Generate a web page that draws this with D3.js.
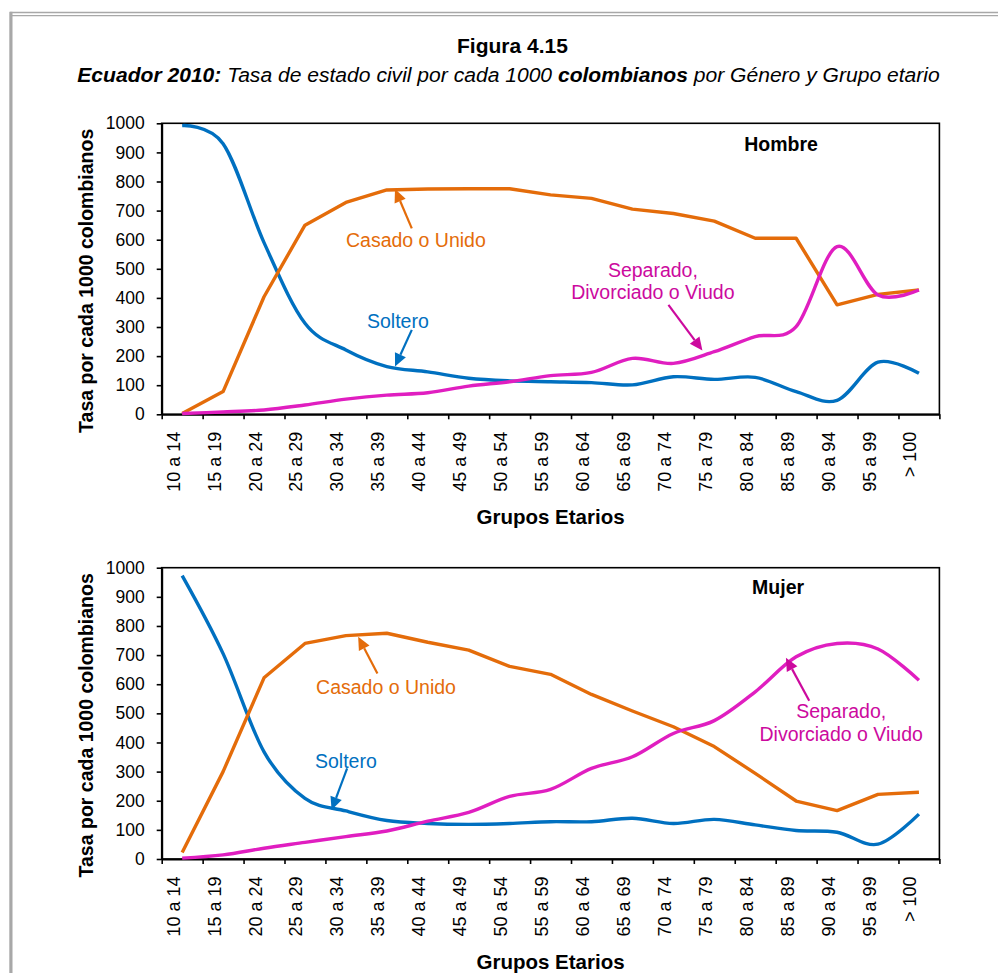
<!DOCTYPE html>
<html><head><meta charset="utf-8">
<script src="https://cdn.jsdelivr.net/npm/d3@7"></script>
<style>
body{margin:0;background:#fff}
svg{display:block}
text{font-family:"Liberation Sans",Arial,sans-serif}
</style></head>
<body><svg id="chart" width="998" height="973"></svg>
<script>
// ---------- data ----------
const categories = ["10 a 14","15 a 19","20 a 24","25 a 29","30 a 34","35 a 39","40 a 44","45 a 49","50 a 54","55 a 59","60 a 64","65 a 69","70 a 74","75 a 79","80 a 84","85 a 89","90 a 94","95 a 99","> 100"];
const yTicks = [0,100,200,300,400,500,600,700,800,900,1000];
const seriesNames = ["Soltero","Casado o Unido","Separado,\nDivorciado o Viudo"];
const hombreSoltero  = [992,930,590,313,221,164,146,124,115,112,109,101,129,120,127,78,48,179,141];
const hombreCasado   = [3,78,404,650,728,771,774,775,775,754,742,705,690,664,605,605,376,412,427];
const hombreSeparado = [3,8,15,32,52,66,74,97,112,133,144,192,175,215,267,301,576,410,427];
const mujerSoltero   = [973,705,368,208,165,132,122,119,122,128,128,140,122,136,117,98,92,51,154];
const mujerCasado    = [22,300,622,740,767,775,744,717,661,634,565,508,454,386,294,199,166,222,229];
const mujerSeparado  = [3,14,37,57,77,96,130,160,215,239,311,351,431,475,574,694,740,721,614];

// ---------- layout ----------
const colors = {soltero:"#0070C0", casado:"#E46C0A", separado:"#E01EC0", separadoText:"#CC0A9E"};
const plotLeft = 161.7, plotRight = 939.4;
const svg = d3.select("#chart");

// outer grey frame
svg.append("line").attr("x1",10).attr("x2",998).attr("y1",12.5).attr("y2",12.5).attr("stroke","#a8a8a8").attr("stroke-width",1.6);
svg.append("line").attr("x1",12).attr("x2",998).attr("y1",15.6).attr("y2",15.6).attr("stroke","#a8a8a8").attr("stroke-width",1.4);
svg.append("rect").attr("x",9.3).attr("y",11.8).attr("width",3.2).attr("height",973).attr("fill","#a8a8a8");

// titles
svg.append("text").attr("x",512.5).attr("y",53).attr("text-anchor","middle")
  .style("font-weight","bold").style("font-size","21px").text("Figura 4.15");
const sub = svg.append("text").attr("x",0).attr("y",0).attr("text-anchor","middle").style("font-size","19.5px").style("font-style","italic");
sub.append("tspan").style("font-weight","bold").text("Ecuador 2010:");
sub.append("tspan").text(" Tasa de estado civil por cada 1000 ");
sub.append("tspan").style("font-weight","bold").text("colombianos");
sub.append("tspan").text(" por Género y Grupo etario");
const subW = sub.node().getBBox().width;
sub.attr("transform",`translate(508.5,82) scale(${863/subW},1)`);

function drawPanel(cfg){
  const g = svg.append("g");
  const x = d3.scaleBand().domain(categories).range([plotLeft, plotRight]).paddingInner(0).paddingOuter(0);
  const bw = x.bandwidth();
  const xi = d3.scaleLinear().domain([0, categories.length-1])
     .range([x(categories[0])+bw/2, x(categories[categories.length-1])+bw/2]);
  const y = d3.scaleLinear().domain([0,1000]).range([cfg.bottom, cfg.top]);

  // frame
  g.append("rect").attr("x",plotLeft).attr("y",cfg.top).attr("width",plotRight-plotLeft).attr("height",cfg.bottom-cfg.top)
    .attr("fill","none").attr("stroke","#000").attr("stroke-width",1.6);

  // y axis
  const ya = g.append("g").attr("transform",`translate(${plotLeft},0)`)
    .call(d3.axisLeft(y).tickValues(yTicks).tickSize(5).tickSizeOuter(0).tickPadding(12).tickFormat(d3.format("d")));
  ya.select(".domain").attr("stroke","#000").attr("stroke-width",2);
  ya.selectAll(".tick line").attr("stroke","#000").attr("stroke-width",1.6);
  ya.selectAll("text").style("font-size","17.5px").attr("fill","#000").style("font-family","'Liberation Sans',Arial,sans-serif");

  // x axis: boundary ticks
  const xb = d3.scaleLinear().domain([0,categories.length]).range([plotLeft,plotRight]);
  const xt = g.append("g").attr("transform",`translate(0,${cfg.bottom})`)
    .call(d3.axisBottom(xb).tickValues(d3.range(0,categories.length+1)).tickSize(5).tickSizeOuter(0).tickFormat(""));
  xt.select(".domain").attr("stroke","#000").attr("stroke-width",2);
  xt.selectAll(".tick line").attr("stroke","#000").attr("stroke-width",1.6);
  // x axis: category labels
  const xl = g.append("g").attr("transform",`translate(0,${cfg.bottom})`)
    .call(d3.axisBottom(x).tickSize(0).tickSizeOuter(0));
  xl.select(".domain").remove();
  xl.selectAll("text").attr("transform","rotate(-90)").attr("x",-17.5).attr("y",-2.5).attr("dy",0)
    .attr("text-anchor","end").style("font-size","18px").attr("fill","#000").style("font-family","'Liberation Sans',Arial,sans-serif");

  // axis titles
  g.append("text").attr("transform",`translate(93.3,${(cfg.top+cfg.bottom)/2+12}) rotate(-90)`).attr("text-anchor","middle")
    .style("font-weight","bold").style("font-size","19.5px").text("Tasa por cada 1000 colombianos");
  g.append("text").attr("x",(plotLeft+plotRight)/2).attr("y",cfg.bottom+109.5).attr("text-anchor","middle")
    .style("font-weight","bold").style("font-size","20.5px").text("Grupos Etarios");

  // lines
  const smooth = d3.line().x((d,i)=>xi(i)).y(d=>y(d)).curve(d3.curveCardinal.tension(0));
  const straight = d3.line().x((d,i)=>xi(i)).y(d=>y(d)).curve(d3.curveLinear);
  g.append("path").datum(cfg.soltero).attr("d",smooth).attr("fill","none").attr("stroke",colors.soltero).attr("stroke-width",3.4).attr("stroke-linejoin","round");
  g.append("path").datum(cfg.casado).attr("d",straight).attr("fill","none").attr("stroke",colors.casado).attr("stroke-width",3.4).attr("stroke-linejoin","round");
  g.append("path").datum(cfg.separado).attr("d",smooth).attr("fill","none").attr("stroke",colors.separado).attr("stroke-width",3.4).attr("stroke-linejoin","round");

  // panel title
  g.append("text").attr("x",xi(cfg.titlePos[0])).attr("y",y(cfg.titlePos[1])).attr("text-anchor","middle")
    .style("font-weight","bold").style("font-size","19.5px").text(cfg.title);

  // annotations
  cfg.notes.forEach(n=>{
    const t = g.append("text").attr("x",xi(n.at[0])).attr("y",y(n.at[1])).attr("text-anchor","middle")
      .style("font-size","19.5px").attr("fill",n.color);
    n.text.split("\n").forEach((s,k)=>t.append("tspan").attr("x",xi(n.at[0])).attr("dy",k?22.6:0).text(s));
    const x1 = xi(n.from[0]), y1 = y(n.from[1]), x2 = xi(n.to[0]), y2 = y(n.to[1]);
    const ang = Math.atan2(y2-y1, x2-x1), L = 13, W = 6;
    const bx = x2 - L*Math.cos(ang), by = y2 - L*Math.sin(ang);
    g.append("line").attr("x1",x1).attr("y1",y1).attr("x2",bx).attr("y2",by).attr("stroke",n.color).attr("stroke-width",2.2);
    g.append("path").attr("d",`M${x2},${y2}L${bx+W*Math.sin(ang)},${by-W*Math.cos(ang)}L${bx-W*Math.sin(ang)},${by+W*Math.cos(ang)}Z`).attr("fill",n.color);
  });
}

drawPanel({
  top:123.3, bottom:414.3, title:"Hombre", titlePos:[14.63,906],
  soltero:hombreSoltero, casado:hombreCasado, separado:hombreSeparado,
  notes:[
    {text:seriesNames[1], color:colors.casado, at:[5.71,574], from:[5.61,639], to:[5.2,774]},
    {text:seriesNames[0], color:colors.soltero, at:[5.27,295], from:[5.61,290], to:[5.2,164]},
    {text:seriesNames[2], color:colors.separadoText, at:[11.5,473], from:[11.88,376], to:[12.71,219]}
  ]
});
drawPanel({
  top:567.7, bottom:859, title:"Mujer", titlePos:[14.56,909],
  soltero:mujerSoltero, casado:mujerCasado, separado:mujerSeparado,
  notes:[
    {text:seriesNames[1], color:colors.casado, at:[4.98,568], from:[4.77,637], to:[4.30,763]},
    {text:seriesNames[0], color:colors.soltero, at:[4.0,311], from:[4.03,311], to:[3.65,168]},
    {text:seriesNames[2], color:colors.separadoText, at:[16.1,483], from:[15.32,543], to:[14.75,691]}
  ]
});
</script></body></html>
